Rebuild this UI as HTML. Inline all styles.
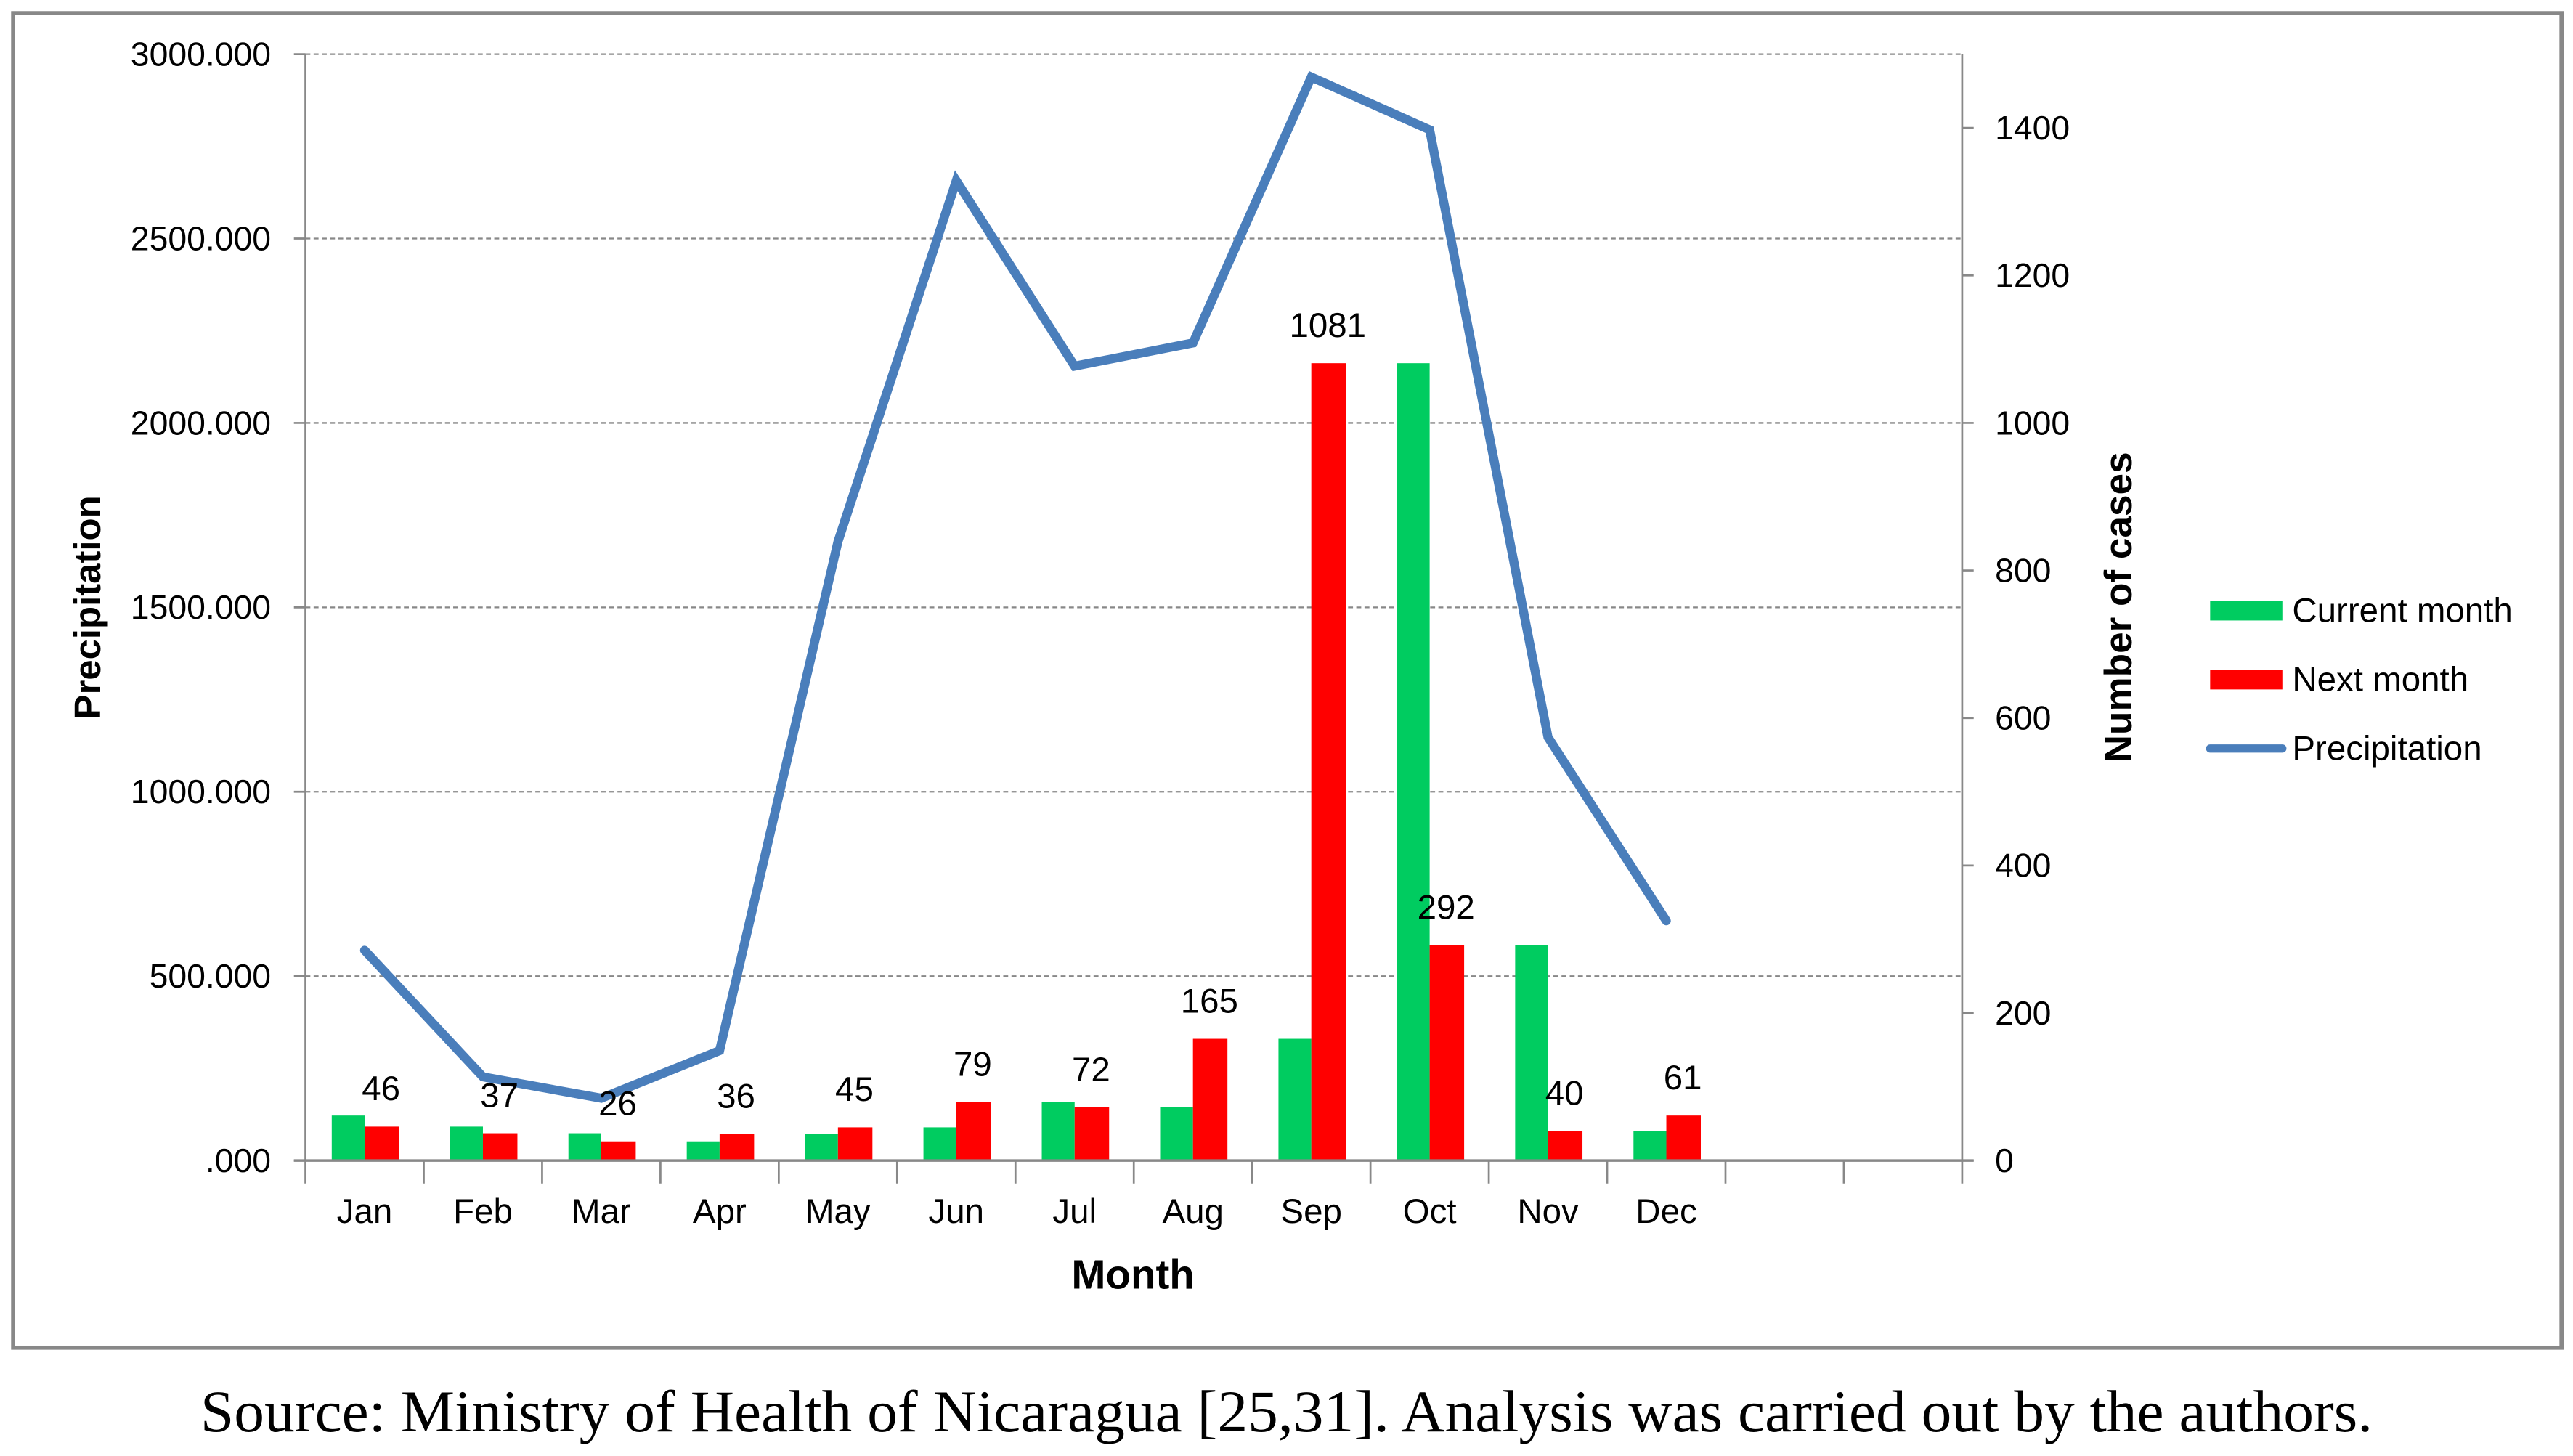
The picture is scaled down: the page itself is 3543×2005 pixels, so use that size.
<!DOCTYPE html>
<html><head><meta charset="utf-8"><style>
html,body{margin:0;padding:0;background:#fff;}
svg{display:block;}
text{font-family:"Liberation Sans",sans-serif;fill:#000;}
</style></head><body>
<svg id="chart" width="3543" height="2005" viewBox="0 0 1567 887" preserveAspectRatio="none" xmlns="http://www.w3.org/2000/svg">
<rect x="8" y="8" width="1552" height="813" fill="#fff" stroke="#888" stroke-width="2.5"/>
<g id="grid"></g>
<g id="bars"></g>
<g id="line"></g>
<g id="labels"></g>
<g id="axes"></g>
<text transform="translate(61,370) rotate(-90)" text-anchor="middle" font-size="22.5" font-weight="bold">Precipitation</text>
<text transform="translate(1298,370) rotate(-90)" text-anchor="middle" font-size="23.5" font-weight="bold">Number of cases</text>
<text x="690" y="785" text-anchor="middle" font-size="25" font-weight="bold">Month</text>
<g>
<rect x="1346" y="366" width="44" height="12" fill="#00cc60"/>
<text x="1396" y="379" font-size="21">Current month</text>
<rect x="1346" y="408" width="44" height="12" fill="#ff0000"/>
<text x="1396" y="421" font-size="21">Next month</text>
<line x1="1346" y1="456" x2="1390" y2="456" stroke="#4a7ebb" stroke-width="5" stroke-linecap="round"/>
<text x="1396" y="463" font-size="21">Precipitation</text>
</g>
<text x="122" y="872" textLength="1323" lengthAdjust="spacingAndGlyphs" font-size="36" style="font-family:'Liberation Serif',serif">Source: Ministry of Health of Nicaragua [25,31]. Analysis was carried out by the authors.</text>
</svg>
<script>
const months = ["Jan","Feb","Mar","Apr","May","Jun","Jul","Aug","Sep","Oct","Nov","Dec"];
const currentMonth = [61,46,37,26,36,45,79,72,165,1081,292,40];
const nextMonth = [46,37,26,36,45,79,72,165,1081,292,40,61];
const precipitation = [570,227,169,298,1678,2657,2154,2217,2938,2795,1148,650];
const leftTicks = [0,500,1000,1500,2000,2500,3000];
const leftTickLabels = [".000","500.000","1000.000","1500.000","2000.000","2500.000","3000.000"];
const rightTicks = [0,200,400,600,800,1000,1200,1400];

const NS="http://www.w3.org/2000/svg";
const X0=186, X1=1195, YT=33, YB=707, SLOTS=14;
const slotW=(X1-X0)/SLOTS;
const xc=i=>X0+slotW*(i+0.5);
const yL=v=>YB-(v/3000)*(YB-YT);
const yR=v=>YB-(v/1500)*(YB-YT);
function mk(tag,attrs,parent){const e=document.createElementNS(NS,tag);for(const k in attrs)e.setAttribute(k,attrs[k]);document.getElementById(parent).appendChild(e);return e;}

leftTicks.forEach((v,i)=>{
  if(v>0){const g=mk('line',{x1:X0,x2:X1,y1:yL(v),y2:yL(v),stroke:'#888','stroke-width':1,'stroke-dasharray':'3,2'},'grid');
  
  }
  const tk=mk('line',{x1:X0-7,x2:X0,y1:yL(v),y2:yL(v),stroke:'#888','stroke-width':1.2},'axes');
  
  
  const t=mk('text',{x:X0-21,y:yL(v)+7,'text-anchor':'end','font-size':20.5},'axes');
  
  
  t.textContent=leftTickLabels[i];
});
rightTicks.forEach(v=>{
  const tk=mk('line',{x1:X1,x2:X1+7,y1:yR(v),y2:yR(v),stroke:'#888','stroke-width':1.2},'axes');
  
  
  const t=mk('text',{x:X1+20,y:yR(v)+7,'font-size':20.5},'axes');
  
  
  t.textContent=v;
});
const la=mk('line',{x1:X0,x2:X0,y1:YT,y2:YB+14,stroke:'#888','stroke-width':1.2},'axes');


const ra=mk('line',{x1:X1,x2:X1,y1:YT,y2:YB+14,stroke:'#888','stroke-width':1.2},'axes');


const xa=mk('line',{x1:X0-7,x2:X1+7,y1:YB,y2:YB,stroke:'#888','stroke-width':1.5},'axes');


for(let i=1;i<SLOTS;i++){
  const tk=mk('line',{x1:X0+slotW*i,x2:X0+slotW*i,y1:YB,y2:YB+14,stroke:'#888','stroke-width':1.2},'axes');
  
  
}
months.forEach((m,i)=>{
  const t=mk('text',{x:xc(i),y:YB+38,'text-anchor':'middle','font-size':21},'axes');
  
  
  t.textContent=m;
  const g=mk('rect',{x:xc(i)-20,y:yR(currentMonth[i]),width:20,height:YB-yR(currentMonth[i]),fill:'#00cc60'},'bars');
  
  
  const r=mk('rect',{x:xc(i),y:yR(nextMonth[i]),width:21,height:YB-yR(nextMonth[i]),fill:'#ff0000'},'bars');
  
  
  const l=mk('text',{x:xc(i)+10,y:yR(nextMonth[i])-16,'text-anchor':'middle','font-size':21},'labels');
  
  
  l.textContent=nextMonth[i];
});
const pts=precipitation.map((v,i)=>xc(i)+','+yL(v)).join(' ');
const pl=mk('polyline',{points:pts,fill:'none',stroke:'#4a7ebb','stroke-width':5.5,'stroke-linejoin':'miter','stroke-linecap':'round'},'line');


</script>
</body></html>
